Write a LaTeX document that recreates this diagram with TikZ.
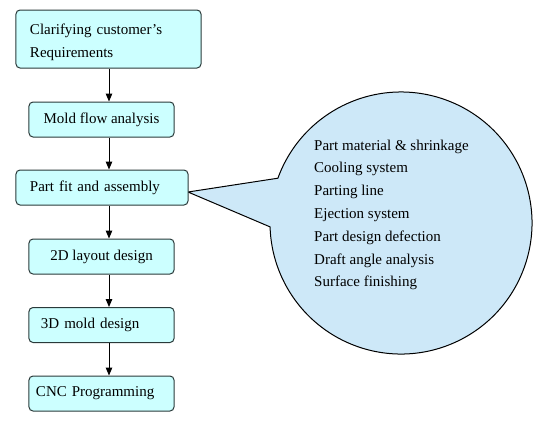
\documentclass[tikz,border=0pt]{standalone}
\usepackage{fontspec}
\setmainfont{Liberation Serif}
\usetikzlibrary{arrows.meta}
\definecolor{boxfill}{HTML}{CCFFFF}
\definecolor{bubblefill}{HTML}{CDE8F8}
\definecolor{edge}{HTML}{2A3A3A}
\begin{document}
\begin{tikzpicture}[x=1bp,y=-1bp,
  stepbox/.style={draw=edge, line width=1bp, rounded corners=4bp, fill=boxfill,
    minimum width=145bp, minimum height=35bp, inner sep=0pt,
    font=\fontsize{15bp}{22bp}\selectfont},
  arr/.style={-{Triangle[length=8bp,width=6.5bp]}, line width=1bp, draw=black},
  listtext/.style={anchor=north west, inner sep=0pt, align=left,
    font=\fontsize{15bp}{22.8bp}\selectfont}]
\useasboundingbox (0,0) rectangle (540,425);
% callout bubble
\path[draw=black, line width=1bp, fill=bubblefill]
  (188,192) -- ([shift={(401,223)}]200:131)
  arc[start angle=200, end angle=538.3, radius=131] -- cycle;
\node[listtext] (list) at (314,139.5) {Part material \& shrinkage\\Cooling system\\Parting line\\Ejection system\\Part design defection\\Draft angle analysis\\Surface finishing};
% flow boxes
\node[stepbox, minimum width=185bp, minimum height=58bp, text width=157bp, align=left,
  font=\fontsize{15bp}{22.5bp}\selectfont, text depth=19bp] (b1) at (108.5,39) {Clarifying customer’s\\Requirements};
\node[stepbox] (b2) at (101.5,119.5) {Mold flow analysis};
\node[stepbox, minimum width=172bp, text width=144bp, align=left] (b3) at (102,187.5) {Part fit and assembly};
\node[stepbox] (b4) at (101.5,256.5) {2D layout design};
\node[stepbox, text width=121bp, align=left] (b5) at (101.5,325) {3D mold design};
\node[stepbox, text width=131bp, align=left] (b6) at (101.5,393.5) {CNC Programming};
% arrows
\coordinate (ax) at (109,0);
\draw[arr] (b1.south -| ax) -- (b2.north -| ax);
\draw[arr] (b2.south -| ax) -- (b3.north -| ax);
\draw[arr] (b3.south -| ax) -- (b4.north -| ax);
\draw[arr] (b4.south -| ax) -- (b5.north -| ax);
\draw[arr] (b5.south -| ax) -- (b6.north -| ax);
\end{tikzpicture}
\end{document}
